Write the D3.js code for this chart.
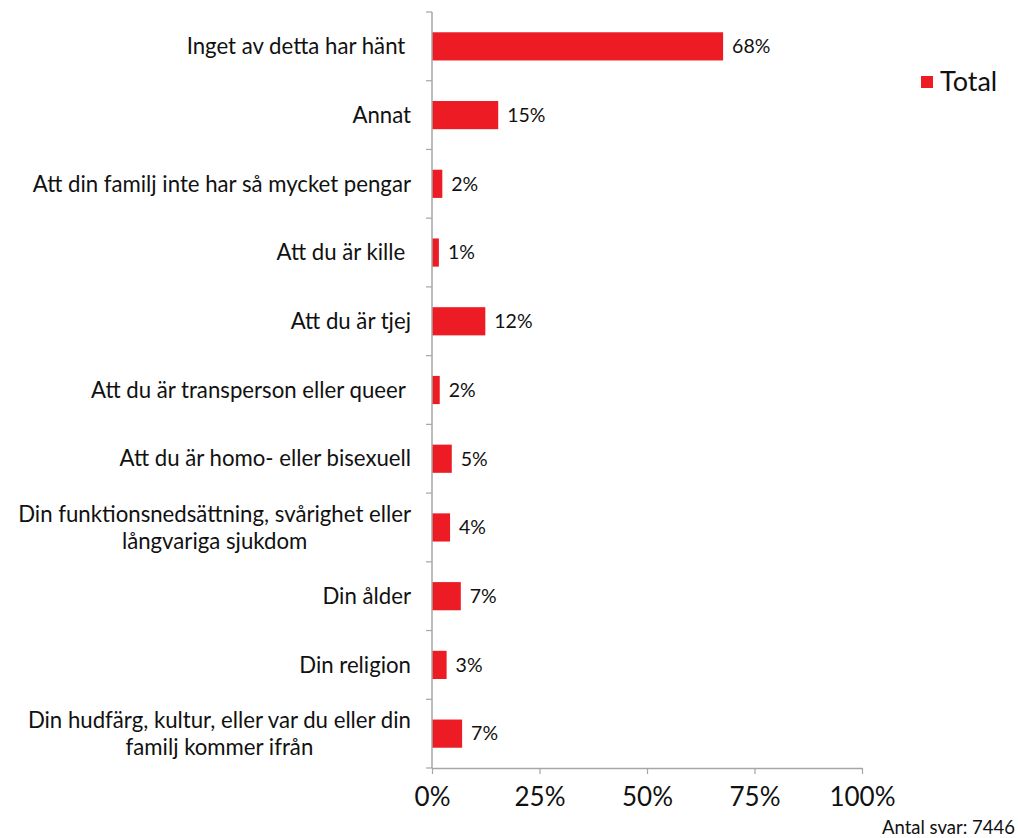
<!DOCTYPE html>
<html><head><meta charset="utf-8">
<script src="https://cdn.jsdelivr.net/npm/d3@7"></script>
<style>
body{margin:0;background:#fff;}
text{font-family:Lato,"Open Sans",sans-serif;white-space:pre;font-weight:400;}
</style></head>
<body><svg id="chart" width="1018" height="838"></svg>
<script>
const categories = [
  ["Inget av detta har hänt "],
  ["Annat"],
  ["Att din familj inte har så mycket pengar"],
  ["Att du är kille "],
  ["Att du är tjej"],
  ["Att du är transperson eller queer "],
  ["Att du är homo- eller bisexuell"],
  ["Din funktionsnedsättning, svårighet eller", "långvariga sjukdom"],
  ["Din ålder"],
  ["Din religion"],
  ["Din hudfärg, kultur, eller var du eller din", "familj kommer ifrån"]
];
const values = [67.7, 15.4, 2.4, 1.6, 12.4, 1.8, 4.6, 4.2, 6.7, 3.4, 7.0];
const valueLabels = ["68%","15%","2%","1%","12%","2%","5%","4%","7%","3%","7%"];
const xTicks = [0, 25, 50, 75, 100];
const seriesName = "Total";
const note = "Antal svar: 7446";

const svg = d3.select("#chart");
const red = "#ED1C24";
const axisColor = "#a6a6a6";
const plotL = 432, plotR = 862, plotT = 12, plotB = 768;

const x = d3.scaleLinear().domain([0, 100]).range([plotL, plotR]);
const y = d3.scaleBand().domain(d3.range(categories.length)).range([plotT, plotB]).paddingInner(0.59).paddingOuter(0.295);

// bars
svg.append("g").selectAll("rect").data(values).join("rect")
  .attr("x", x(0)).attr("y", (d,i)=>y(i))
  .attr("width", d=>x(d)-x(0)).attr("height", y.bandwidth())
  .attr("fill", red);

// value labels
svg.append("g").selectAll("text").data(values).join("text")
  .attr("x", d=>x(d)+9).attr("y", (d,i)=>y(i)+y.bandwidth()/2)
  .attr("dy", "0.35em").attr("font-size", 19.5).attr("fill", "#111")
  .text((d,i)=>valueLabels[i]);

// y axis line and ticks at band boundaries
const step = (plotB-plotT)/categories.length;
const gy = svg.append("g");
gy.append("line").attr("x1", plotL).attr("x2", plotL).attr("y1", plotT).attr("y2", plotB)
  .attr("stroke", axisColor).attr("stroke-width", 1.5);
gy.selectAll("line.t").data(d3.range(categories.length+1)).join("line").attr("class","t")
  .attr("x1", plotL-6).attr("x2", plotL)
  .attr("y1", i=>plotT+i*step).attr("y2", i=>plotT+i*step)
  .attr("stroke", axisColor).attr("stroke-width", 1.2);

// x axis
const xAxis = d3.axisBottom(x).tickValues(xTicks).tickFormat(d=>d+"%").tickSize(6).tickSizeOuter(0);
const gx = svg.append("g").attr("transform", `translate(0,${plotB})`).call(xAxis);
gx.select(".domain").attr("stroke", axisColor).attr("stroke-width", 1.5);
gx.selectAll(".tick line").attr("stroke", axisColor).attr("stroke-width", 1.2);
gx.selectAll(".tick text").attr("font-size", 26).attr("fill", "#111").attr("y", 20).attr("dy", "0.71em")
  .attr("font-family", "Lato, sans-serif");

// category labels
const labelRight = 411;
const lineH = 27;
categories.forEach((lines, i) => {
  const cy = y(i) + y.bandwidth()/2;
  const g = svg.append("g");
  const texts = lines.map((ln, j) => g.append("text")
    .attr("font-size", 22.2).attr("fill", "#111")
    .attr("y", cy + (j - (lines.length-1)/2)*lineH).attr("dy", "0.35em")
    .text(ln));
  const widths = texts.map(t => t.node().getComputedTextLength());
  const maxW = d3.max(widths);
  const center = labelRight - maxW/2;
  texts.forEach(t => t.attr("x", center).attr("text-anchor", "middle"));
});

// legend
svg.append("rect").attr("x", 921).attr("y", 76).attr("width", 12).attr("height", 12).attr("fill", red);
svg.append("text").attr("x", 940).attr("y", 82).attr("dy", "0.35em").attr("font-size", 27).attr("fill", "#111").text(seriesName);

// note
svg.append("text").attr("x", 1015).attr("y", 834).attr("text-anchor", "end").attr("font-size", 18.5).attr("fill", "#111").text(note);
</script>
</body></html>
